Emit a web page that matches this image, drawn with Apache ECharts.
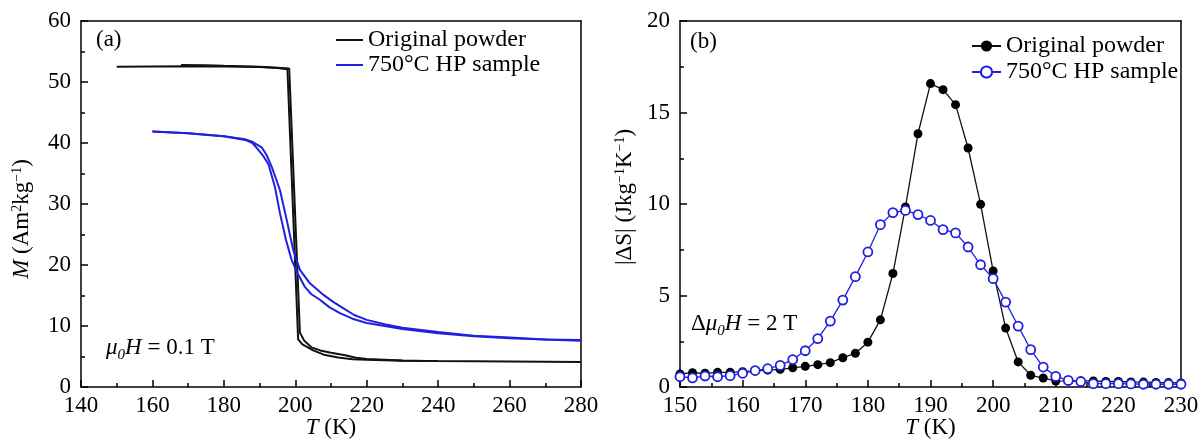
<!DOCTYPE html>
<html>
<head>
<meta charset="utf-8">
<title>M(T) and |ΔS|(T)</title>
<script src="https://cdn.jsdelivr.net/npm/echarts@6/dist/echarts.min.js"></script>
<style>
    html, body { margin: 0; padding: 0; background: #fff; }
    #chart { width: 1202px; height: 441px; }
</style>
</head>
<body>
<div id="chart"></div>
<script>
// (a) M(T), two branches per sample
var powderT1 = [150, 160, 170, 180, 190, 195, 197.8, 200.8, 202, 203.5, 205, 208, 212, 216, 220, 230, 240, 260, 280];
var powderM1 = [52.5, 52.55, 52.6, 52.55, 52.45, 52.3, 52.1, 7.8, 7.0, 6.5, 6.0, 5.3, 4.85, 4.55, 4.45, 4.3, 4.25, 4.2, 4.1];
var powderT2 = [168, 175, 180, 190, 195, 198.3, 201.3, 202.5, 204.5, 207, 210, 214, 217, 220, 230, 237];
var powderM2 = [52.8, 52.75, 52.65, 52.5, 52.35, 52.2, 8.9, 7.6, 6.5, 6.0, 5.6, 5.2, 4.8, 4.6, 4.35, 4.25];
var hpT1 = [160, 170, 180, 186, 188, 189.6, 191, 192.5, 194.3, 195.7, 197.4, 199, 200.4, 202.7, 204.5, 206.9, 209.5, 212.5, 216, 220, 225, 230, 240, 250, 260, 270, 280];
var hpM1 = [41.9, 41.6, 41.1, 40.5, 40.0, 38.9, 37.9, 36.5, 32.8, 28.5, 24.1, 20.8, 18.9, 16.4, 15.2, 14.3, 13.1, 12.1, 11.2, 10.5, 10.0, 9.5, 8.8, 8.3, 8.0, 7.8, 7.6];
var hpT2 = [160, 170, 180, 186, 188, 190.6, 192, 193.4, 195.7, 197.6, 199.4, 201.3, 204.1, 207.9, 210.5, 213.5, 216.5, 220, 225, 230, 240, 250, 260, 270, 280];
var hpM2 = [41.9, 41.6, 41.1, 40.6, 40.2, 39.3, 38.0, 36.1, 32.3, 27.4, 22.5, 19.2, 17.0, 15.1, 14.0, 12.9, 11.8, 11.0, 10.3, 9.7, 9.0, 8.4, 8.1, 7.8, 7.7];

// (b) |ΔS|(T), every 2 K from 150 to 230
var sT = [150, 152, 154, 156, 158, 160, 162, 164, 166, 168, 170, 172, 174, 176, 178, 180, 182, 184, 186, 188, 190,
          192, 194, 196, 198, 200, 202, 204, 206, 208, 210, 212, 214, 216, 218, 220, 222, 224, 226, 228, 230];
var powderS = [0.71, 0.78, 0.75, 0.8, 0.8, 0.84, 0.88, 0.92, 0.96, 1.05, 1.13, 1.22, 1.33, 1.6, 1.84, 2.45, 3.67, 6.2, 9.84, 13.84, 16.58,
               16.25, 15.43, 13.06, 9.98, 6.34, 3.22, 1.37, 0.64, 0.49, 0.33, 0.32, 0.33, 0.33, 0.3, 0.3, 0.28, 0.27, 0.25, 0.24, 0.22];
var hpS = [0.56, 0.5, 0.6, 0.56, 0.62, 0.75, 0.9, 1.0, 1.18, 1.5, 1.98, 2.64, 3.6, 4.75, 6.03, 7.38, 8.87, 9.53, 9.65, 9.42, 9.1,
           8.6, 8.42, 7.65, 6.68, 5.92, 4.64, 3.33, 2.04, 1.09, 0.58, 0.36, 0.3, 0.18, 0.18, 0.18, 0.17, 0.15, 0.15, 0.15, 0.15];

var legendLabels = { powder: 'Original powder', hp: '750°C HP sample' };

var FONT = 'Liberation Serif';
var BLUE = '#2020e0';

function pairs(xs, ys) {
    var out = [];
    for (var i = 0; i < xs.length; ++i) {
        out.push([xs[i], ys[i]]);
    }
    return out;
}

function makeX(idx, min, max, step, name) {
    return {
        type: 'value', gridIndex: idx, min: min, max: max, interval: step,
        name: name, nameLocation: 'middle', nameGap: 29, nameMoveOverlap: false,
        nameTextStyle: {
            fontFamily: FONT, fontSize: 23, color: '#000',
            rich: { i: { fontFamily: FONT, fontSize: 23, fontStyle: 'italic', color: '#000' } }
        },
        axisLine: { show: true, onZero: false, lineStyle: { color: '#000', width: 1.5 } },
        axisTick: { show: true, inside: true, length: 7, lineStyle: { color: '#000', width: 1.5 } },
        minorTick: { show: true, splitNumber: 2, length: 4, lineStyle: { color: '#000', width: 1.5 } },
        axisLabel: { show: true, fontFamily: FONT, fontSize: 23, color: '#000', margin: 7 },
        splitLine: { show: false }
    };
}

function makeY(idx, min, max, step, name, gap, pad) {
    var ax = makeX(idx, min, max, step, name);
    ax.nameGap = gap;
    ax.axisLabel.margin = 10;
    ax.nameTextStyle.padding = pad;
    ax.nameTextStyle.rich.s = { fontFamily: FONT, fontSize: 14, color: '#000', verticalAlign: 'top' };
    return ax;
}

// plain frame edge (top / right of each box)
function frame(idx, pos, min, max) {
    return {
        type: 'value', gridIndex: idx, position: pos, min: min, max: max,
        axisLine: { show: true, onZero: false, lineStyle: { color: '#000', width: 1.5 } },
        axisTick: { show: false }, minorTick: { show: false },
        axisLabel: { show: false }, splitLine: { show: false }
    };
}

var mLine = function (name, xs, ys, color) {
    return {
        name: name, type: 'line', xAxisIndex: 0, yAxisIndex: 0,
        data: pairs(xs, ys), symbol: 'none', smooth: false,
        lineStyle: { color: color, width: 2 },
        itemStyle: { color: color }
    };
};

var annoRich = {
    t: { fontFamily: FONT, fontSize: 23, fill: '#000', lineHeight: 30, verticalAlign: 'middle' },
    i: { fontFamily: FONT, fontSize: 23, fontStyle: 'italic', fill: '#000', lineHeight: 30, verticalAlign: 'middle' },
    sub: { fontFamily: FONT, fontSize: 15, fontStyle: 'italic', fill: '#000', verticalAlign: 'bottom' }
};

var option = {
    animation: false,
    backgroundColor: '#fff',
    grid: [
        { left: 81, top: 21, width: 500, height: 366, show: false, containLabel: false, outerBoundsMode: 'none' },
        { left: 680, top: 21, width: 501, height: 366, show: false, containLabel: false, outerBoundsMode: 'none' }
    ],
    xAxis: [
        makeX(0, 140, 280, 20, '{i|T} (K)'),
        makeX(1, 150, 230, 10, '{i|T} (K)'),
        frame(0, 'top', 140, 280),
        frame(1, 'top', 150, 230)
    ],
    yAxis: [
        makeY(0, 0, 60, 10, '{i|M} (Am{s|2}kg{s|−1})', 48, [0, 30, 0, 0]),
        makeY(1, 0, 20, 5, '|ΔS| (Jkg{s|−1}K{s|−1})', 44, [0, 0, 0, 14]),
        frame(0, 'right', 0, 60),
        frame(1, 'right', 0, 20)
    ],
    legend: [
        {
            orient: 'vertical', left: 336, top: 28, padding: 0, itemWidth: 27, itemHeight: 2, itemGap: 1,
            icon: 'rect',
            data: ['powder', 'hp'],
            formatter: function (n) { return legendLabels[n]; },
            textStyle: { fontFamily: FONT, fontSize: 24, lineHeight: 23, color: '#000' },
            selectedMode: false
        },
        {
            orient: 'vertical', left: 971, top: 34, padding: 0, itemWidth: 29, itemHeight: 14, itemGap: 2,
            data: ['powderS', 'hpS'],
            formatter: function (n) { return legendLabels[n.replace('S', '')]; },
            textStyle: { fontFamily: FONT, fontSize: 24, lineHeight: 23, color: '#000' },
            selectedMode: false
        }
    ],
    graphic: [
        { type: 'text', left: 96, top: 28, style: { text: '(a)', font: '23px "Liberation Serif"', fill: '#000' } },
        { type: 'text', left: 690, top: 30, style: { text: '(b)', font: '23px "Liberation Serif"', fill: '#000' } },
        {
            type: 'text', left: 106, top: 336,
            style: { text: '{i|μ}{sub|0}{i|H}{t| = 0.1 T}', rich: annoRich }
        },
        {
            type: 'text', left: 691, top: 312,
            style: { text: '{t|Δ}{i|μ}{sub|0}{i|H}{t| = 2 T}', rich: annoRich }
        }
    ],
    series: [
        mLine('powder', powderT1, powderM1, '#111'),
        mLine('powder', powderT2, powderM2, '#111'),
        mLine('hp', hpT1, hpM1, BLUE),
        mLine('hp', hpT2, hpM2, BLUE),
        {
            name: 'powderS', type: 'line', xAxisIndex: 1, yAxisIndex: 1,
            data: pairs(sT, powderS), symbol: 'circle', symbolSize: 9,
            lineStyle: { color: '#111', width: 1.3 },
            itemStyle: { color: '#000' }
        },
        {
            name: 'hpS', type: 'line', xAxisIndex: 1, yAxisIndex: 1,
            data: pairs(sT, hpS), symbol: 'circle', symbolSize: 9,
            lineStyle: { color: BLUE, width: 1.3 },
            itemStyle: { color: '#fff', borderColor: BLUE, borderWidth: 1.8 }
        }
    ]
};

echarts.init(document.getElementById('chart')).setOption(option);
</script>
</body>
</html>
